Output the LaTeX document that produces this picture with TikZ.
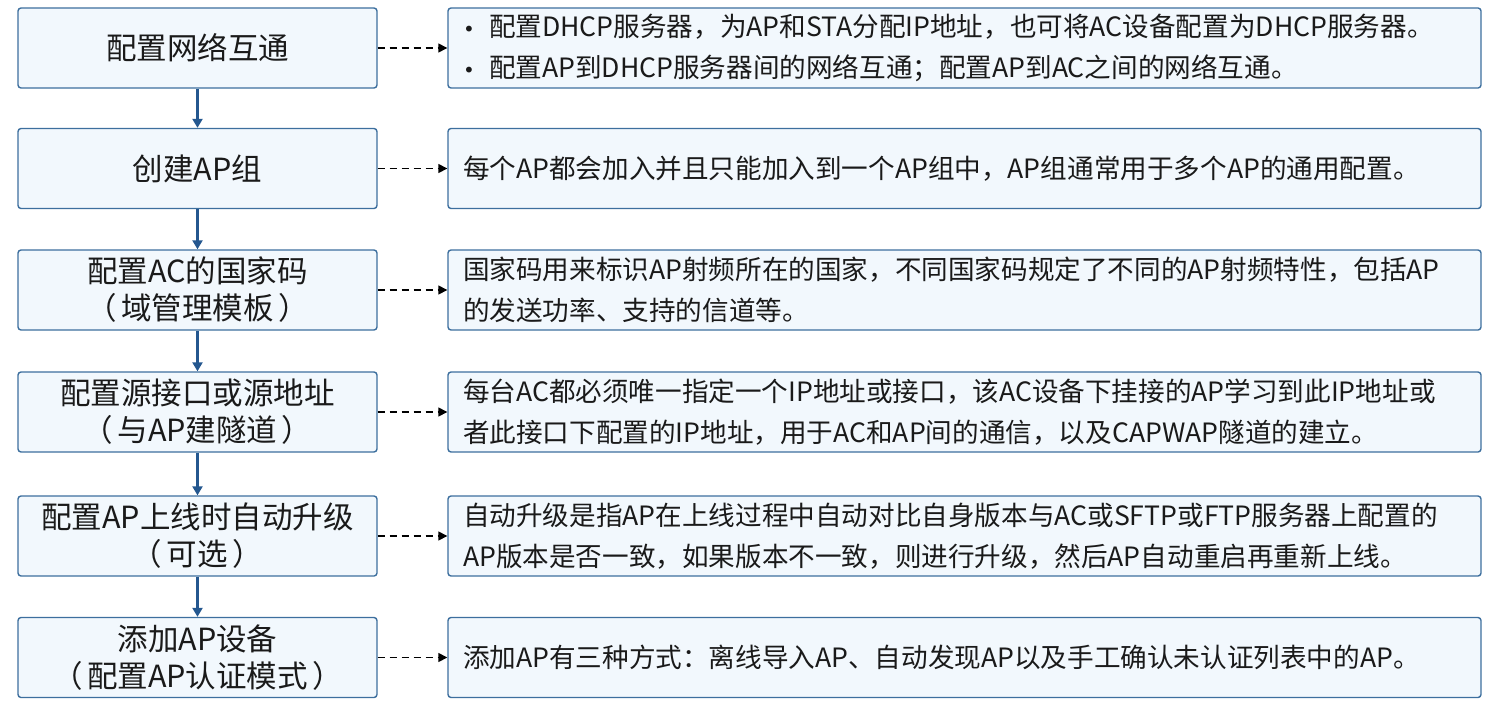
\documentclass[tikz,border=0pt]{standalone}
\usepackage{fontspec}
\setmainfont{Noto Sans CJK SC}
\newfontfamily\symfont{DejaVu Sans}
\usetikzlibrary{arrows.meta}
\definecolor{bordercol}{HTML}{3D6F9E}
\definecolor{fillcol}{HTML}{F2F8FD}
\definecolor{flowcol}{HTML}{24578F}
\definecolor{txtcol}{HTML}{1A1A1A}
\newcommand{\bul}{\makebox[26pt][l]{\symfont\fontsize{20}{20}\selectfont •}}
\newcommand{\lp}{（\hspace{0.15em}}
\newcommand{\rp}{\hspace{0.15em}）}
\begin{document}
\begin{tikzpicture}[x=1pt,y=-1pt,
  lbox/.style={draw=bordercol, fill=fillcol, line width=1.4pt, rounded corners=3pt,
    minimum width=359pt, minimum height=80pt, inner sep=0pt, align=center,
    text=txtcol, font=\fontsize{30.5}{37}\selectfont},
  rbox/.style={draw=bordercol, fill=fillcol, line width=1.4pt, rounded corners=3pt,
    minimum width=1033pt, minimum height=80pt, inner xsep=15pt, inner ysep=0pt,
    text width=1003pt, align=left,
    text=txtcol, font=\fontsize{26.6}{41}\selectfont},
  flow/.style={draw=flowcol, line width=2.2pt, -{Triangle[length=9pt,width=10pt]}},
  note/.style={draw=black, line width=1.5pt, dash pattern=on 7pt off 5pt, -{Triangle[length=9pt,width=9pt]}}
]
\useasboundingbox (0,0) rectangle (1496,709);

\node[lbox] (l1) at (197.5,48) {配置网络互通};
\node[lbox] (l2) at (197.5,168.5) {创建AP组};
\node[lbox] (l3) at (197.5,290) {配置AC的国家码\\\lp 域管理模板\rp};
\node[lbox] (l4) at (197.5,412) {配置源接口或源地址\\\lp 与AP建隧道\rp};
\node[lbox] (l5) at (197.5,536) {配置AP上线时自动升级\\\lp 可选\rp};
\node[lbox] (l6) at (197.5,657.5) {添加AP设备\\\lp 配置AP认证模式\rp};

\node[rbox] (r1) at (964.5,48) {\bul 配置DHCP服务器，为AP和STA分配IP地址，也可将AC设备配置为DHCP服务器。\\\bul 配置AP到DHCP服务器间的网络互通；配置AP到AC之间的网络互通。};
\node[rbox] (r2) at (964.5,168.5) {每个AP都会加入并且只能加入到一个AP组中，AP组通常用于多个AP的通用配置。};
\node[rbox] (r3) at (964.5,290) {国家码用来标识AP射频所在的国家，不同国家码规定了不同的AP射频特性，包括AP\\的发送功率、支持的信道等。};
\node[rbox] (r4) at (964.5,412) {每台AC都必须唯一指定一个IP地址或接口，该AC设备下挂接的AP学习到此IP地址或\\者此接口下配置的IP地址，用于AC和AP间的通信，以及CAPWAP隧道的建立。};
\node[rbox] (r5) at (964.5,536) {自动升级是指AP在上线过程中自动对比自身版本与AC或SFTP或FTP服务器上配置的\\AP版本是否一致，如果版本不一致，则进行升级，然后AP自动重启再重新上线。};
\node[rbox] (r6) at (964.5,657.5) {添加AP有三种方式：离线导入AP、自动发现AP以及手工确认未认证列表中的AP。};

\foreach \a/\b in {l1/l2,l2/l3,l3/l4,l4/l5,l5/l6}
  \draw[flow] (\a.south) -- (\b.north);
\foreach \i in {1,...,6}
  \draw[note] (l\i.east) -- (r\i.west);
\end{tikzpicture}
\end{document}
